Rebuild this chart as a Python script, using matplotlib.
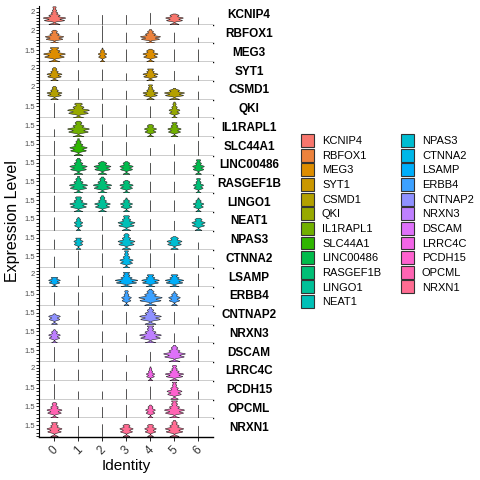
import numpy as np
import matplotlib
matplotlib.use("Agg")
import matplotlib.pyplot as plt
from matplotlib.patches import Patch

plt.rcParams['font.family'] = ['Liberation Sans', 'DejaVu Sans']

# =========================
# DATA
# =========================
genes = ['KCNIP4', 'RBFOX1', 'MEG3', 'SYT1', 'CSMD1', 'QKI', 'IL1RAPL1',
         'SLC44A1', 'LINC00486', 'RASGEF1B', 'LINGO1', 'NEAT1', 'NPAS3',
         'CTNNA2', 'LSAMP', 'ERBB4', 'CNTNAP2', 'NRXN3', 'DSCAM', 'LRRC4C',
         'PCDH15', 'OPCML', 'NRXN1']
clusters = ['0', '1', '2', '3', '4', '5', '6']

# panel y maximum and the single labelled tick of each panel
panel_top = [2.9, 2.9, 2.4, 2.9, 2.9, 2.4, 2.4, 2.4, 2.4, 2.4, 2.4,
             2.4, 2.4, 2.4, 2.9, 2.4, 2.4, 2.4, 2.4, 2.9, 2.4, 2.4, 2.4]
panel_tick = [2, 2, 1.5, 2, 2, 1.5, 1.5, 1.5, 1.5, 1.5, 1.5,
              1.5, 1.5, 1.5, 2, 1.5, 1.5, 1.5, 1.5, 2, 1.5, 1.5, 1.5]

# highest expression value reached by each cluster's violin
vmax = {
    'KCNIP4':    [2.85, 1.5, 1.5, 1.5, 1.85, 1.7, 1.1],
    'RBFOX1':    [2.1, 1.7, 2.85, 1.7, 2.2, 1.7, 0.9],
    'MEG3':      [1.9, 1.85, 1.85, 1.65, 1.7, 1.65, 1.65],
    'SYT1':      [2.1, 1.7, 1.8, 1.15, 1.9, 1.55, 0.8],
    'CSMD1':     [2.1, 1.8, 1.8, 1.4, 2.35, 1.8, 1.25],
    'QKI':       [2.0, 2.0, 1.9, 1.7, 1.55, 2.15, 1.5],
    'IL1RAPL1':  [1.0, 2.1, 1.65, 1.65, 1.65, 1.9, 1.9],
    'SLC44A1':   [1.95, 2.25, 1.95, 1.8, 1.0, 1.5, 1.95],
    'LINC00486': [2.0, 2.15, 1.7, 1.7, 1.5, 1.7, 1.95],
    'RASGEF1B':  [2.15, 2.25, 2.15, 1.7, 1.5, 1.5, 1.95],
    'LINGO1':    [2.15, 2.0, 2.15, 1.85, 1.5, 1.5, 1.85],
    'NEAT1':     [1.75, 1.75, 1.9, 1.98, 1.5, 1.28, 1.65],
    'NPAS3':     [1.28, 1.5, 1.95, 2.08, 1.28, 1.7, 0.9],
    'CTNNA2':    [1.5, 2.3, 1.95, 2.3, 1.95, 1.95, 1.7],
    'LSAMP':     [1.55, 1.8, 1.8, 2.35, 1.95, 1.95, 2.1],
    'ERBB4':     [1.75, 1.75, 1.75, 1.98, 2.18, 1.85, 1.33],
    'CNTNAP2':   [1.4, 1.85, 1.85, 1.63, 2.23, 1.63, 0.9],
    'NRXN3':     [1.78, 1.78, 1.53, 1.4, 2.28, 1.28, 0.9],
    'DSCAM':     [1.95, 1.75, 1.75, 0.88, 1.3, 2.18, 1.6],
    'LRRC4C':    [1.9, 1.75, 1.75, 1.4, 2.2, 2.45, 2.0],
    'PCDH15':    [2.0, 1.03, 1.03, 1.35, 1.68, 2.28, 1.03],
    'OPCML':     [2.05, 1.45, 1.45, 1.73, 1.73, 2.28, 1.73],
    'NRXN1':     [1.88, 1.43, 1.65, 1.65, 1.65, 2.18, 1.43],
}

# how wide each violin body is (in cluster units)
vwidth = {
    'KCNIP4':    [0.93, 0.02, 0.02, 0.02, 0.02, 0.73, 0.02],
    'RBFOX1':    [0.76, 0.02, 0.02, 0.02, 0.83, 0.02, 0.02],
    'MEG3':      [0.9, 0.02, 0.35, 0.02, 0.62, 0.02, 0.02],
    'SYT1':      [0.62, 0.02, 0.02, 0.02, 0.62, 0.02, 0.02],
    'CSMD1':     [0.62, 0.02, 0.02, 0.02, 0.62, 0.83, 0.02],
    'QKI':       [0.02, 0.9, 0.02, 0.02, 0.02, 0.45, 0.02],
    'IL1RAPL1':  [0.02, 0.9, 0.02, 0.02, 0.5, 0.55, 0.02],
    'SLC44A1':   [0.02, 0.72, 0.02, 0.02, 0.02, 0.02, 0.02],
    'LINC00486': [0.02, 0.72, 0.7, 0.55, 0.02, 0.02, 0.48],
    'RASGEF1B':  [0.02, 0.75, 0.76, 0.55, 0.02, 0.02, 0.42],
    'LINGO1':    [0.02, 0.72, 0.65, 0.5, 0.02, 0.02, 0.44],
    'NEAT1':     [0.02, 0.35, 0.02, 0.7, 0.02, 0.02, 0.55],
    'NPAS3':     [0.02, 0.38, 0.02, 0.7, 0.02, 0.62, 0.02],
    'CTNNA2':    [0.02, 0.02, 0.02, 0.55, 0.02, 0.02, 0.02],
    'LSAMP':     [0.48, 0.02, 0.02, 0.93, 0.73, 0.76, 0.02],
    'ERBB4':     [0.02, 0.02, 0.02, 0.4, 0.97, 0.48, 0.02],
    'CNTNAP2':   [0.48, 0.02, 0.02, 0.02, 0.9, 0.02, 0.02],
    'NRXN3':     [0.48, 0.02, 0.02, 0.02, 0.9, 0.02, 0.02],
    'DSCAM':     [0.02, 0.02, 0.02, 0.02, 0.02, 0.9, 0.02],
    'LRRC4C':    [0.02, 0.02, 0.02, 0.02, 0.35, 0.76, 0.02],
    'PCDH15':    [0.02, 0.02, 0.02, 0.02, 0.02, 0.62, 0.02],
    'OPCML':     [0.62, 0.02, 0.02, 0.02, 0.4, 0.83, 0.02],
    'NRXN1':     [0.62, 0.02, 0.02, 0.55, 0.48, 0.76, 0.02],
}

# discrete expression levels seen in the violins and their relative cell counts
levels = [0.0, 0.65, 1.05, 1.45, 1.85, 2.25, 2.65]
level_counts = [5, 9, 10, 5, 3, 2, 1]


# =========================
# HELPERS
# =========================
def hue_pal(n, l=65, c=100):
    # ggplot2 default palette (HCL -> sRGB)
    hues = np.linspace(15, 375, n + 1)[:n]
    xn, yn, zn = 95.047, 100.0, 108.883
    un = 4 * xn / (xn + 15 * yn + 3 * zn)
    vn = 9 * yn / (xn + 15 * yn + 3 * zn)
    m = np.array([[3.2404542, -1.5371385, -0.4985314],
                  [-0.9692660, 1.8760108, 0.0415560],
                  [0.0556434, -0.2040259, 1.0572252]])
    out = []
    for h in hues:
        u = c * np.cos(np.radians(h))
        v = c * np.sin(np.radians(h))
        y = yn * ((l + 16) / 116) ** 3
        up = u / (13 * l) + un
        vp = v / (13 * l) + vn
        x = y * 9 * up / (4 * vp)
        z = y * (12 - 3 * up - 20 * vp) / (4 * vp)
        rgb = m @ (np.array([x, y, z]) / 100)
        rgb = np.where(rgb <= 0.0031308, 12.92 * rgb,
                       1.055 * np.clip(rgb, 0, None) ** (1 / 2.4) - 0.055)
        out.append(tuple(np.clip(rgb, 0, 1)))
    return out


def cells(top):
    vals = []
    for lv, cnt in zip(levels, level_counts):
        if lv < top:
            vals += [lv] * cnt
    vals += [top]
    return np.array(vals)


colors = hue_pal(len(genes))

# =========================
# PLOT
# =========================
fig = plt.figure(figsize=(4.8, 4.8), dpi=100)
W, H = 480.0, 480.0
x0, x1 = 39, 213
y_top, y_bot = 6, 437
ph = (y_bot - y_top) / len(genes)

for i, g in enumerate(genes):
    top_px = y_top + i * ph
    ax = fig.add_axes([x0 / W, 1 - (top_px + ph) / H, (x1 - x0) / W, ph / H])
    data = [cells(t) for t in vmax[g]]
    parts = ax.violinplot(data, positions=range(len(clusters)),
                          widths=vwidth[g], showextrema=False, points=300,
                          bw_method=lambda k: 0.12 / max(np.std(k.dataset), 1e-6))
    for b, w in zip(parts['bodies'], vwidth[g]):
        b.set_facecolor(colors[i])
        b.set_edgecolor('#222222' if w > 0.1 else '#555555')
        b.set_linewidth(0.4 if w > 0.1 else 0.35)
        b.set_alpha(1)

    ax.set_xlim(-0.625, 6.625)
    ax.set_ylim(-0.1, panel_top[i])
    for s in ['top', 'right']:
        ax.spines[s].set_visible(False)
    ax.spines['left'].set_linewidth(0.8)
    ax.spines['bottom'].set_linewidth(1.0)

    ticks = np.arange(0, panel_top[i], 0.5)
    ax.set_yticks(ticks)
    ax.set_yticklabels(['%g' % panel_tick[i] if abs(t - panel_tick[i]) < 1e-9 else ''
                        for t in ticks])
    ax.tick_params(axis='y', length=2, width=0.6, labelsize=5.5, pad=1,
                   labelcolor='#4D4D4D')

    if i == len(genes) - 1:
        ax.set_xticks(range(len(clusters)))
        ax.set_xticklabels(clusters, rotation=45, fontsize=8.5, color='#333333')
        ax.tick_params(axis='x', length=3, width=0.6, pad=2)
    else:
        ax.set_xticks([])

    fig.text(249 / W, 1 - (top_px + ph / 2) / H, g, ha='center', va='center',
             fontsize=8.5, fontweight='bold')

fig.text(126 / W, 1 - 466 / H, 'Identity', ha='center', va='center', fontsize=11)
fig.text(13 / W, 1 - 221 / H, 'Expression Level', ha='center', va='center',
         rotation=90, fontsize=11.5)

# legend in two columns: 12 + 11 entries
handles = [Patch(facecolor=c, edgecolor='#333333', linewidth=0.8) for c in colors]
leg_kw = dict(frameon=False, fontsize=8, handlelength=1.17, handleheight=1.42,
              labelspacing=0.15, handletextpad=0.72, borderpad=0, borderaxespad=0,
              loc='upper left')
fig.legend(handles[:12], genes[:12], bbox_to_anchor=(301 / W, 1 - 134 / H), **leg_kw)
fig.legend(handles[12:], genes[12:], bbox_to_anchor=(401 / W, 1 - 134 / H), **leg_kw)

fig.savefig('out.png', dpi=100, facecolor='white')
